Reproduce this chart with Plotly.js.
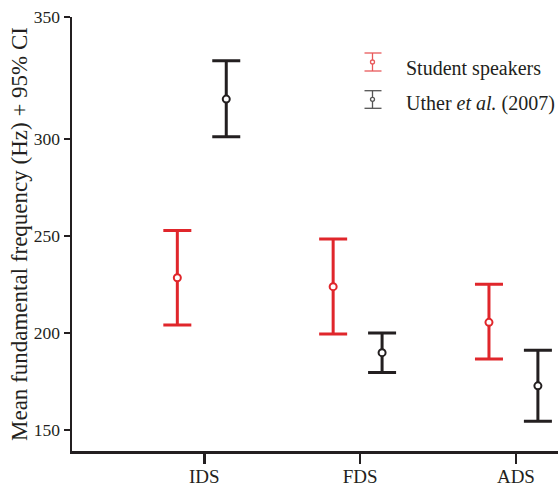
<!DOCTYPE html>
<html>
<head>
<meta charset="utf-8">
<script src="https://cdn.plot.ly/plotly-3.0.1.min.js"></script>
<style>html,body{margin:0;padding:0;background:#fff;}#chart{width:558px;height:486px;}</style>
</head>
<body>
<div id="chart"></div>
<script>
// Data
var categories = ["IDS", "FDS", "ADS"];
var seriesNames = ["Student speakers", "Uther <i>et al.</i> (2007)"];
var studentMean  = [228.5, 223.9, 205.5];
var studentUpper = [252.9, 248.5, 225.1];
var studentLower = [204.1, 199.5, 186.6];
var utherMean  = [320.6, 189.9, 172.8];
var utherUpper = [340.4, 200.0, 191.1];
var utherLower = [301.2, 179.7, 154.5];
// y tick labels (the reference prints "350" at the axis top, which sits above a linear 350)
var yTickText = ["150", "200", "250", "300", "350"];
var yTickVals = [150, 200, 250, 300, 362.9];

var RED = "#e0262b", BLACK = "#231f20";
var catPos = categories.map(function (c, i) { return i + 1; });
function diff(a, b) { return a.map(function (v, i) { return Math.abs(v - b[i]); }); }

function ciTrace(name, mean, up, lo, offset, color) {
  return {
    type: "scatter", mode: "markers", name: name, showlegend: false,
    x: catPos.map(function (p) { return p + offset; }),
    y: mean,
    marker: { symbol: "circle", size: 7, color: "#fff", line: { color: color, width: 2 } },
    error_y: { type: "data", symmetric: false, array: diff(up, mean), arrayminus: diff(mean, lo),
               color: color, thickness: 3, width: 14 },
    hoverinfo: "skip"
  };
}

var traces = [
  ciTrace(seriesNames[0], studentMean, studentUpper, studentLower, -0.173, RED),
  ciTrace(seriesNames[1], utherMean, utherUpper, utherLower, 0.141, BLACK)
];

var font = "Liberation Serif, Times New Roman, serif";

// manual legend (error-bar glyphs)
var shapes = [], annotations = [];
var legendItems = [
  { color: "#e8585a", y0: 53, y1: 71, yc: 62, ty: 68, text: seriesNames[0] },
  { color: "#555", y0: 90.7, y1: 108.3, yc: 99.3, ty: 103, text: seriesNames[1] }
];
var H = 486, W = 558;
function py(p) { return 1 - (p - 17) / 434; }   // pixel -> paper y
function px(p) { return (p - 72) / 486; }        // pixel -> paper x
legendItems.forEach(function (it) {
  var lx = { type: "line", xref: "paper", yref: "paper", line: { color: it.color, width: 1.3 } };
  shapes.push(Object.assign({}, lx, { x0: px(372.5), x1: px(372.5), y0: py(it.y0), y1: py(it.y1) }));
  shapes.push(Object.assign({}, lx, { x0: px(364.5), x1: px(381.5), y0: py(it.y0), y1: py(it.y0) }));
  shapes.push(Object.assign({}, lx, { x0: px(364.5), x1: px(381.5), y0: py(it.y1), y1: py(it.y1) }));
  shapes.push({ type: "circle", xref: "paper", yref: "paper", fillcolor: "#fff",
    line: { color: it.color, width: 1.3 },
    x0: px(370.5), x1: px(374.5), y0: py(it.yc - 2), y1: py(it.yc + 2) });
  annotations.push({ xref: "paper", yref: "paper", x: px(404), y: py(it.ty), xanchor: "left", yanchor: "middle",
    text: it.text, showarrow: false, font: { family: font, size: 20, color: BLACK } });
});

var layout = {
  width: W, height: H,
  margin: { l: 72, r: 0, t: 17, b: 35 },
  paper_bgcolor: "#fff", plot_bgcolor: "#fff",
  showlegend: false,
  font: { family: font, color: BLACK },
  xaxis: {
    range: [0.151, 3.27], tickvals: catPos, ticktext: categories,
    showgrid: false, zeroline: false, showline: true, linecolor: BLACK, linewidth: 2.5,
    ticks: "outside", ticklen: 10, tickwidth: 2.5, tickcolor: BLACK,
    ticklabelstandoff: -3,
    tickfont: { family: font, size: 19, color: BLACK }
  },
  yaxis: {
    range: [139.2, 362.9], tickvals: yTickVals, ticktext: yTickText,
    showgrid: false, zeroline: false, showline: true, linecolor: BLACK, linewidth: 2.5,
    ticks: "outside", ticklen: 6, tickwidth: 2.5, tickcolor: BLACK,
    tickfont: { family: font, size: 17.5, color: BLACK },
    title: { text: "Mean fundamental frequency (Hz) + 95% CI", font: { family: font, size: 23, color: BLACK }, standoff: 0 }
  },
  shapes: shapes,
  annotations: annotations
};

Plotly.newPlot("chart", traces, layout, { displayModeBar: false, staticPlot: true });
</script>
</body>
</html>
